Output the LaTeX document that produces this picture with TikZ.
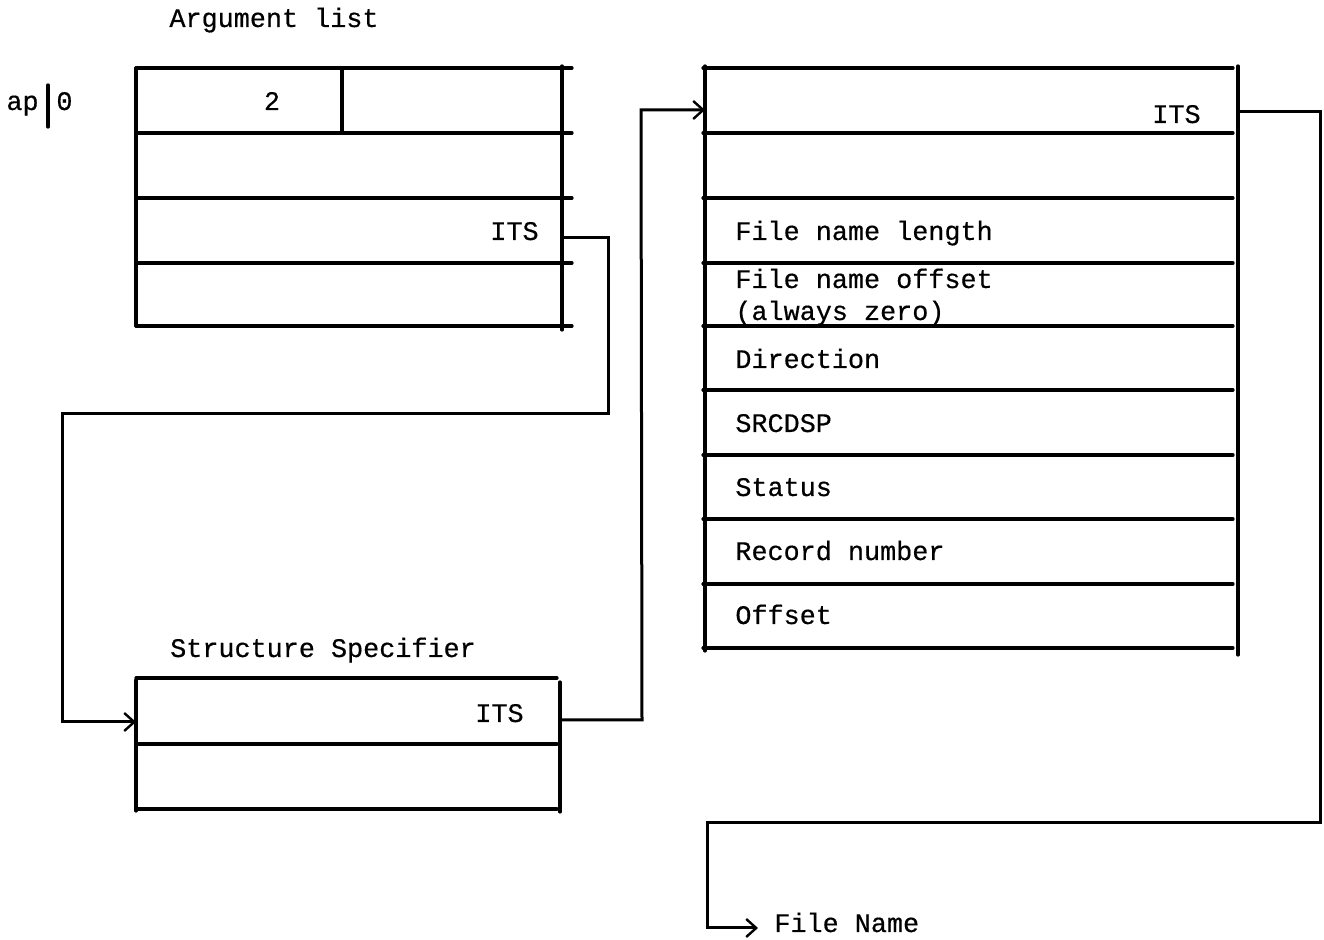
\documentclass[tikz,border=0pt]{standalone}
\usepackage{fontspec}
\newfontfamily\typer{Liberation Mono}[BoldFont={Liberation Mono}, BoldFeatures={FakeBold=0.5}]
\usetikzlibrary{arrows.meta}
\begin{document}
\begin{tikzpicture}[x=0.5pt,y=-0.5pt,
  rule/.style={line width=1.6pt, line cap=round},
  link/.style={line width=1.5pt, line join=miter},
  tip/.style={-{Straight Barb[length=5pt,width=9pt,line width=1.2pt]}},
  lbl/.style={font=\typer\bfseries\fontsize{13.4}{16}\selectfont, inner sep=0pt},
  field/.style={lbl, anchor=base west},
]
\useasboundingbox (0,0) rectangle (1324,940);

% ---------------- argument list ----------------
\node[lbl, anchor=base] (arg-title) at (274,27) {Argument list};
\node[lbl, anchor=base east] (ap) at (39,110) {ap};
\coordinate (bar-top) at (48,85);
\coordinate (bar-bot) at (48,127);
\draw[rule] (bar-top) -- (bar-bot);
\node[lbl, anchor=base west] (ap0) at (56,110) {0};

\foreach \y in {68,133,198,263,326} \draw[rule] (136,\y) -- (572,\y);
\draw[rule] (136,68) -- (136,326);
\draw[rule] (562,66) -- (562,330);
\draw[rule] (342,68) -- (342,133);
\node[lbl, anchor=base] (argc) at (272,110) {2};
\node[lbl, anchor=base east] (arg-its) at (539,240) {ITS};
\coordinate (arg-ptr) at (562,238);

% ---------------- structure specifier ----------------
\node[lbl, anchor=base] (ss-title) at (323,657) {Structure Specifier};
\foreach \y in {678,744,809} \draw[rule] (136,\y) -- (557,\y);
\draw[rule] (136,680) -- (136,811);
\draw[rule] (560,682) -- (560,812);
\node[lbl, anchor=base east] (ss-its) at (524,722) {ITS};
\coordinate (ss-in) at (136,722);
\coordinate (ss-ptr) at (560,720);

% ---------------- file block ----------------
\foreach \y in {68,133,198,263,326,390,455,519,584,648} \draw[rule] (703,\y) -- (1233,\y);
\draw[rule] (705,66) -- (705,651);
\draw[rule] (1238,66) -- (1238,655);
\node[lbl, anchor=base east] (fb-its) at (1201,123) {ITS};
\node[field] (f-len)  at (735,240) {File name length};
\node[field] (f-off)  at (735,288) {File name offset};
\node[field] (f-zero) at (735,320) {(always zero)};
\node[field] (f-dir)  at (735,368) {Direction};
\node[field] (f-src)  at (735,432) {SRCDSP};
\node[field] (f-stat) at (735,496) {Status};
\node[field] (f-rec)  at (735,560) {Record number};
\node[field] (f-offs) at (735,624) {Offset};
\coordinate (fb-in) at (705,110);
\coordinate (fb-ptr) at (1238,112);

% ---------------- target ----------------
\node[lbl, anchor=base west] (fname) at (774,932) {File Name};
\coordinate (fname-in) at (758,928);

% ---------------- pointers ----------------
\draw[link, tip] (arg-ptr) -- (608,238) -- (608,414) -- (62,414) -- (62,722) -- (ss-in);
\draw[link, tip] (ss-ptr) -- (642,720) -- (641,110) -- (fb-in);
\draw[link, tip] (fb-ptr) -- (1320,112) -- (1320,823) -- (707,823) -- (707,928) -- (fname-in);
\end{tikzpicture}
\end{document}
